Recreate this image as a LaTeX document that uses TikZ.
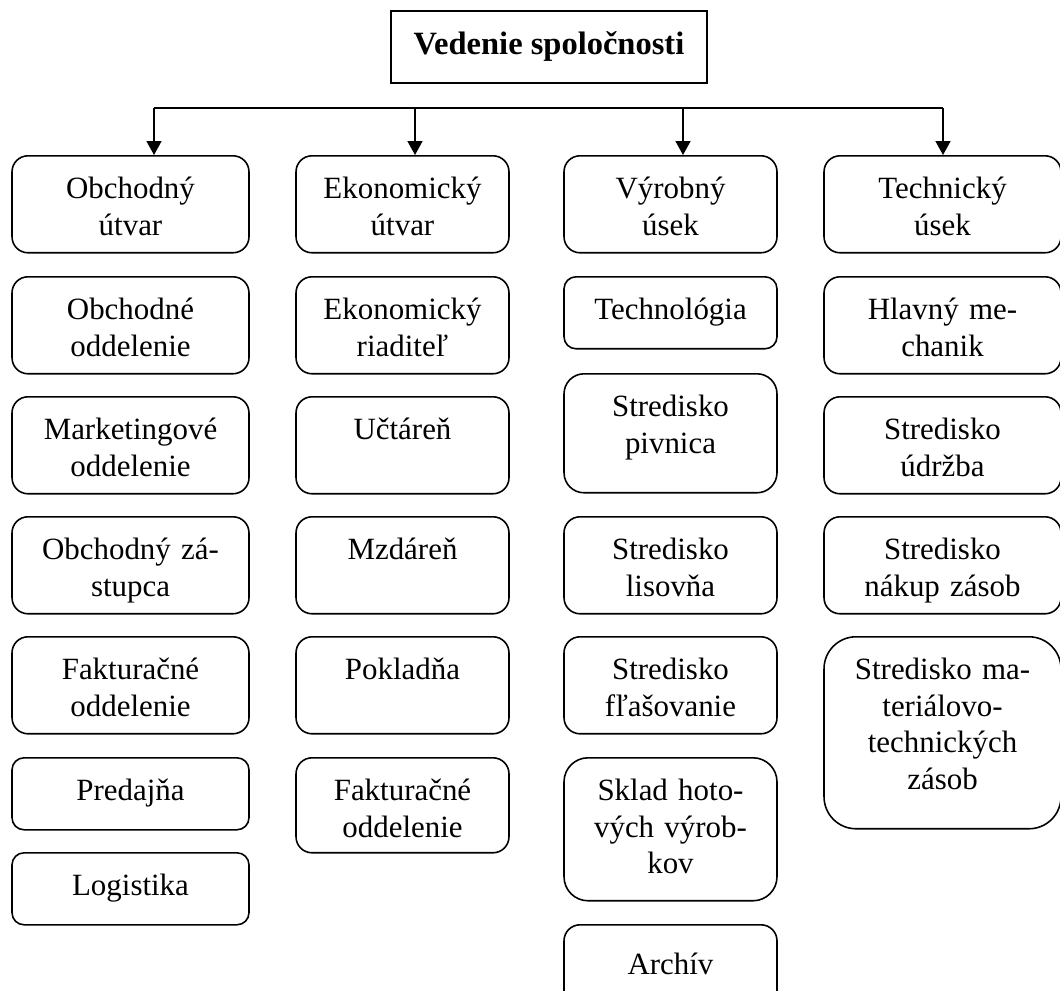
\documentclass[tikz,border=0pt]{standalone}
\usepackage{fontspec}
\setmainfont{Liberation Serif}
\usetikzlibrary{arrows.meta}

\tikzset{
  unit/.style={draw, anchor=north, align=center, inner xsep=0pt, inner ysep=0pt,
    text height=0.86cm, text depth=1.08cm, rounded corners=0.32cm},
  wide/.style={text width=4.74cm},
  narrow/.style={text width=4.26cm},
  short/.style={text depth=0.58cm, rounded corners=0.24cm},
}

\begin{document}
\begin{tikzpicture}[>={Triangle[length=0.28cm,width=0.30cm]}, x=0.02cm, y=-0.02cm,
    line width=0.9pt, font=\fontsize{17.6}{20.8}\selectfont]
  \useasboundingbox (0,0) rectangle (1060,990);
  \clip (0,0) rectangle (1060,990);

  \node[draw, sharp corners, minimum width=6.32cm, minimum height=1.44cm, inner sep=0pt,
    font=\fontsize{18.5}{21}\selectfont\bfseries] (vs) at (549,47) {Vedenie spoločnosti};

  % heads of the four units
  \node[unit, wide] (ou) at (130.5,155) {Obchodný\\útvar};
  \node[unit, narrow] (eu) at (402.5,155) {Ekonomický\\útvar};
  \node[unit, narrow] (vu) at (670.5,155) {Výrobný\\úsek};
  \node[unit, wide] (tu) at (942.5,155) {Technický\\úsek};

  \coordinate (b1) at (154,108); \coordinate (b2) at (415,108);
  \coordinate (b3) at (683,108); \coordinate (b4) at (943,108);
  \draw (b1) -- (b4);
  \foreach \b/\u in {b1/ou, b2/eu, b3/vu, b4/tu}
    \draw[->] (\b) -- (\b |- \u.north);

  % obchodny utvar
  \node[unit, wide] (oo) at (130.5,276) {Obchodné\\oddelenie};
  \node[unit, wide] (mo) at (130.5,396) {Marketingové\\oddelenie};
  \node[unit, wide] (oz) at (130.5,516) {Obchodný zá-\\stupca};
  \node[unit, wide] (fo) at (130.5,636) {Fakturačné\\oddelenie};
  \node[unit, wide, short] (pr) at (130.5,757) {Predajňa};
  \node[unit, wide, short] (lg) at (130.5,852) {Logistika};

  % ekonomicky utvar
  \node[unit, narrow] (er) at (402.5,276) {Ekonomický\\riaditeľ};
  \node[unit, narrow] (uc) at (402.5,396) {Učtáreň};
  \node[unit, narrow] (mz) at (402.5,516) {Mzdáreň};
  \node[unit, narrow] (pk) at (402.5,636) {Pokladňa};
  \node[unit, narrow, text depth=1.04cm] (ef) at (402.5,757) {Fakturačné\\oddelenie};

  % vyrobny usek
  \node[unit, narrow, short] (te) at (670.5,276) {Technológia};
  \node[unit, narrow, text depth=1.52cm, rounded corners=0.40cm] (sp) at (670.5,373) {Stredisko\\pivnica};
  \node[unit, narrow] (sl) at (670.5,516) {Stredisko\\lisovňa};
  \node[unit, narrow] (sf) at (670.5,636) {Stredisko\\fľašovanie};
  \node[unit, narrow, text depth=2.00cm, rounded corners=0.48cm] (sh) at (670.5,757) {Sklad hoto-\\vých výrob-\\kov};
  \node[unit, narrow, text height=1.00cm] (ar) at (670.5,924) {Archív};

  % technicky usek
  \node[unit, wide] (hm) at (942.5,276) {Hlavný me-\\chanik};
  \node[unit, wide] (su) at (942.5,396) {Stredisko\\údržba};
  \node[unit, wide] (sn) at (942.5,516) {Stredisko\\nákup zásob};
  \node[unit, wide, text depth=2.98cm, rounded corners=0.64cm] (sm) at (942.5,636) {Stredisko ma-\\teriálovo-\\technických\\zásob};
\end{tikzpicture}
\end{document}
